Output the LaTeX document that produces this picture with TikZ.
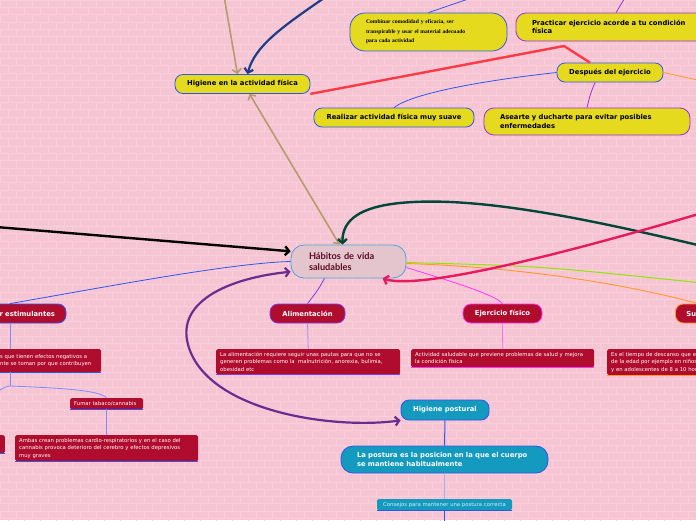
\documentclass[tikz,border=0pt]{standalone}
\usepackage{fontspec}
\setmainfont{DejaVu Sans}
\newfontfamily\corefont{Lato}
\newfontfamily\notefont{Liberation Serif}
\usepackage{xcolor}
\definecolor{PinkBg}{HTML}{F6C5D3}
\definecolor{BrickLine}{HTML}{F8CFDA}
\definecolor{NoteYellow}{HTML}{E6DA1F}
\definecolor{Crimson}{HTML}{B00C2D}
\definecolor{TealBox}{HTML}{1499BF}
\definecolor{CoreFill}{HTML}{E4C5CD}
\definecolor{CoreLine}{HTML}{4DA3DC}
\definecolor{CoreText}{HTML}{5A0A20}
\definecolor{EdgeBlue}{HTML}{2F55F0}
\definecolor{EdgeSoft}{HTML}{7F8CFF}
\definecolor{EdgePurple}{HTML}{9B32D8}
\definecolor{EdgeViolet}{HTML}{7A3AF0}
\definecolor{EdgeMagenta}{HTML}{FF33FF}
\definecolor{EdgeOrange}{HTML}{FF9A22}
\definecolor{EdgeLime}{HTML}{8EE800}
\definecolor{ArrowTan}{HTML}{B89A6C}
\definecolor{ArrowNavy}{HTML}{1F3C88}
\definecolor{ArrowRed}{HTML}{FF3A45}
\definecolor{ArrowPlum}{HTML}{6B2C91}
\definecolor{ArrowPine}{HTML}{00473A}
\definecolor{ArrowRose}{HTML}{E8195F}
\usepackage{tikz}
\usetikzlibrary{arrows.meta,positioning}

\begin{document}
\begin{tikzpicture}[x=1pt,y=-1pt,
  every node/.style={font=\fontsize{6.8}{8.2}\selectfont\bfseries, inner sep=0pt},
  pill/.style={draw, line width=0.8pt, rounded corners=8pt, minimum height=19pt},
  ypill/.style={pill, fill=NoteYellow, text=black},
  rpill/.style={pill, fill=Crimson, text=white},
  tpill/.style={pill, fill=TealBox, text=white, draw=EdgeBlue},
  note/.style={fill=Crimson, text=white, rounded corners=1.5pt, align=left, anchor=north west,
    inner xsep=4pt, inner ysep=3pt, font=\fontsize{5.3}{7.4}\selectfont},
  uline/.style={line width=1.3pt},
  link/.style={line width=0.8pt},
  brick/.style={BrickLine, line width=0.5pt},
  barb/.style={-{Straight Barb[length=4pt,width=9pt]}},
  bibarb/.style={arrows={Straight Barb[length=4pt,width=9pt]-Straight Barb[length=4pt,width=9pt]}}]
  \useasboundingbox (0,0) rectangle (696,520);
  \clip (0,0) rectangle (696,520);
  \fill[PinkBg] (0,0) rectangle (696,520);
  % brick wall
  \foreach \r in {0,...,71}{
    \draw[brick] (0,\r*7.3) -- (696,\r*7.3);
    \pgfmathsetmacro\off{mod(\r,2)*8}
    \foreach \c in {0,...,44}{\draw[brick] (\c*16+\off,\r*7.3) -- ++(0,7.3);}
  }

  % centre
  \node[draw=CoreLine, fill=CoreFill, line width=0.8pt, rounded corners=13pt, minimum height=33pt,
    inner xsep=18pt, text width=79pt, align=left, text=CoreText,
    font=\corefont\fontsize{9.2}{11.5}\selectfont\bfseries] (habitos) at (348.5,261.5) {Hábitos de vida\\saludables};

  % upper branch
  \node[ypill, draw=EdgeBlue, minimum width=135pt] (actfis) at (242.5,84) {Higiene en la actividad física};
  \node[ypill, draw=EdgeBlue, rounded corners=15pt, minimum height=38pt, inner xsep=16pt, text width=125pt,
    align=left, font=\notefont\fontsize{5.6}{9.6}\selectfont\bfseries] (ropa) at (428.5,32)
    {Combinar comodidad y eficacia, ser\\transpirable y usar el material adecuado\\para cada actividad};
  \node[ypill, draw=EdgePurple, minimum height=28pt, rounded corners=10pt, inner xsep=16pt, text width=168pt,
    align=left] (acorde) at (616,27) {Practicar ejercicio acorde a tu condición\\física};
  \node[ypill, draw=EdgeBlue, minimum width=106pt] (despues) at (610,72.5) {Después del ejercicio};
  \node[ypill, draw=EdgeBlue, minimum width=160pt] (suave) at (394,117.5) {Realizar actividad física muy suave};
  \node[ypill, draw=EdgePurple, minimum height=27pt, rounded corners=10pt, inner xsep=16pt, text width=174pt,
    align=left] (ducha) at (587,121.5) {Asearte y ducharte para evitar posibles\\enfermedades};

  % lower branches
  \node[rpill, draw=EdgeBlue, inner xsep=11pt, text width=90pt, align=right] (estim) at (10,313.5) {r estimulantes};
  \node[rpill, draw=EdgeViolet, minimum width=75pt] (alim) at (307.5,313.5) {Alimentación};
  \node[rpill, draw=EdgeMagenta, minimum width=79pt] (ejer) at (502.5,313.5) {Ejercicio físico};
  \node[rpill, draw=EdgeOrange, inner xsep=11pt, anchor=west] (sueno) at (675,313.5) {Sueño};

  \node[note, text width=97pt, minimum height=23pt] (estimd) at (-4,349)
    {s que tienen efectos negativos a\\nte se toman por que contribuyen};
  \node[note, text width=65pt, minimum height=11pt, inner ysep=1pt] (fumar) at (70,398) {Fumar tabaco/cannabis};
  \node[note, text width=175pt, minimum height=24pt] (ambas) at (15,435)
    {Ambas crean problemas cardio-respiratorios y en el caso del\\cannabis provoca deterioro del cerebro y efectos depresivos\\muy graves};
  \node[note, anchor=north east, minimum width=30pt, minimum height=18pt] (otro) at (5,435) {};
  \node[note, text width=176pt, minimum height=23pt] (alimd) at (216,349)
    {La alimentación requiere seguir unas pautas para que no se\\generen problemas como la \ malnutrición, anorexia, bulimia,\\obesidad etc};
  \node[note, text width=175pt, minimum height=18pt] (ejerd) at (411,349)
    {Actividad saludable que previene problemas de salud y mejora\\la condición física};
  \node[note, text width=150pt, minimum height=24pt] (suenod) at (607,349)
    {Es el tiempo de descanso que es\\de la edad por ejemplo en niños\\y en adolescentes de 8 a 10 horas};

  \node[tpill, minimum width=88pt, minimum height=20pt] (postural) at (445,410) {Higiene postural};
  \node[tpill, minimum height=27pt, rounded corners=12pt, inner xsep=16pt, text width=175pt, align=left,
    font=\fontsize{6.8}{9.5}\selectfont\bfseries] (postura) at (444.5,459.5)
    {La postura es la posicion en la que el cuerpo\\se mantiene habitualmente};
  \node[note, fill=TealBox, anchor=north, text width=127pt, minimum height=11pt, inner ysep=1pt,
    align=center, text=white!85!TealBox] (consejos) at (444.5,499) {Consejos para mantener una postura correcta};

  \foreach \n/\c in {estimd/EdgeBlue, fumar/EdgeBlue, ambas/EdgeBlue, otro/EdgeBlue, alimd/EdgeViolet,
    ejerd/EdgeMagenta, suenod/EdgeOrange, consejos/EdgeBlue}
    \draw[uline, \c] (\n.south west) -- (\n.south east);

  % free ends outside the frame
  \coordinate (tanend) at (224,-4);
  \coordinate (navyend) at (327,-4);
  \coordinate (blackend) at (-4,227);
  \coordinate (pineend) at (702,246);
  \coordinate (roseend) at (702,213);
  \coordinate (limeend) at (702,283);
  \coordinate (orangeend) at (702,81);
  \coordinate (ropaup) at (477,-4);
  \coordinate (acordeup) at (626,-4);
  \coordinate (redbend) at (564,46);
  \coordinate (estbranch) at (10,386);
  \coordinate (consejosdown) at (444.5,524);

  % thin links
  \draw[link, EdgeBlue] (ropa.north) -- (ropaup);
  \draw[link, EdgePurple] (acorde.north) -- (acordeup);
  \draw[link, EdgeBlue] (despues.west) .. controls (470,82) and (410,95) .. (suave.north);
  \draw[link, EdgePurple] ([xshift=-15pt]despues.south) .. controls (590,95) .. (ducha.north);
  \draw[link, EdgeOrange] (despues.east) -- (orangeend);
  \draw[link, EdgeBlue] (habitos.west) .. controls (230,263) and (100,288) .. (estim.north);
  \draw[link, EdgeViolet] ([xshift=-24pt]habitos.south) .. controls (318,290) .. (alim.north);
  \draw[link, EdgeMagenta] ([yshift=-6pt]habitos.east) .. controls (460,284) and (495,295) .. (ejer.north);
  \draw[line width=1pt, EdgeLime] ([yshift=-1pt]habitos.east) .. controls (540,266) .. (limeend);
  \draw[line width=0.9pt, EdgeOrange] ([yshift=-2pt]habitos.east) .. controls (540,268) and (640,288) .. (sueno.north);
  \draw[link, EdgeSoft] (estim.south) -- (estim.south |- estimd.north);
  \draw[link, EdgeSoft] (estim.south |- estimd.south) -- (estbranch);
  \draw[link, EdgeSoft] (estbranch) .. controls (60,388) and (100,390) .. (fumar.north);
  \draw[link, EdgeSoft] (estbranch) .. controls (-5,388) and (-10,400) .. (otro.north);
  \draw[link, EdgeSoft] (fumar.south) -- (ambas.north);
  \draw[link, EdgeViolet!60] (alim.south) -- (alimd.north);
  \draw[link, EdgeMagenta!70] (ejer.south) -- (ejerd.north);
  \draw[link, EdgeOrange] (sueno.south) -- (sueno.south |- suenod.north);
  \draw[line width=1pt, EdgeBlue] (postural.south) -- (postura.north);
  \draw[link, EdgeBlue!45] (postura.south) -- (consejos.north);
  \draw[line width=1pt, EdgeBlue] (consejos.south) -- (consejosdown);

  % heavy arrows
  \draw[ArrowRed, line width=2.4pt, line join=round] (actfis.south east) -- (redbend) -- ([xshift=-20pt]despues.north);
  \draw[ArrowTan, line width=1.6pt, barb] (tanend) -- ([xshift=-5pt]actfis.north);
  \draw[ArrowTan, line width=1.6pt, bibarb] ([xshift=7pt]actfis.south) -- ([xshift=-9pt]habitos.north);
  \draw[ArrowNavy, line width=2.2pt, barb] (navyend) .. controls (285,25) and (255,45) .. ([xshift=5pt]actfis.north);
  \draw[black, line width=2.4pt, barb] (blackend) -- (habitos.170);
  \draw[ArrowPine, line width=2.4pt, barb] (pineend) .. controls (600,222) and (480,195) .. (400,203)
    .. controls (360,207) and (342,220) .. ([xshift=-6pt]habitos.north);
  \draw[ArrowRose, line width=2.4pt, barb] (roseend) .. controls (560,255) and (420,290) .. ([xshift=34pt]habitos.south);
  \draw[ArrowPlum, line width=2.2pt, bibarb] (postural.south west) .. controls (330,430) and (200,410) .. (187,340)
    .. controls (180,300) and (230,278) .. (habitos.190);
\end{tikzpicture}
\end{document}
